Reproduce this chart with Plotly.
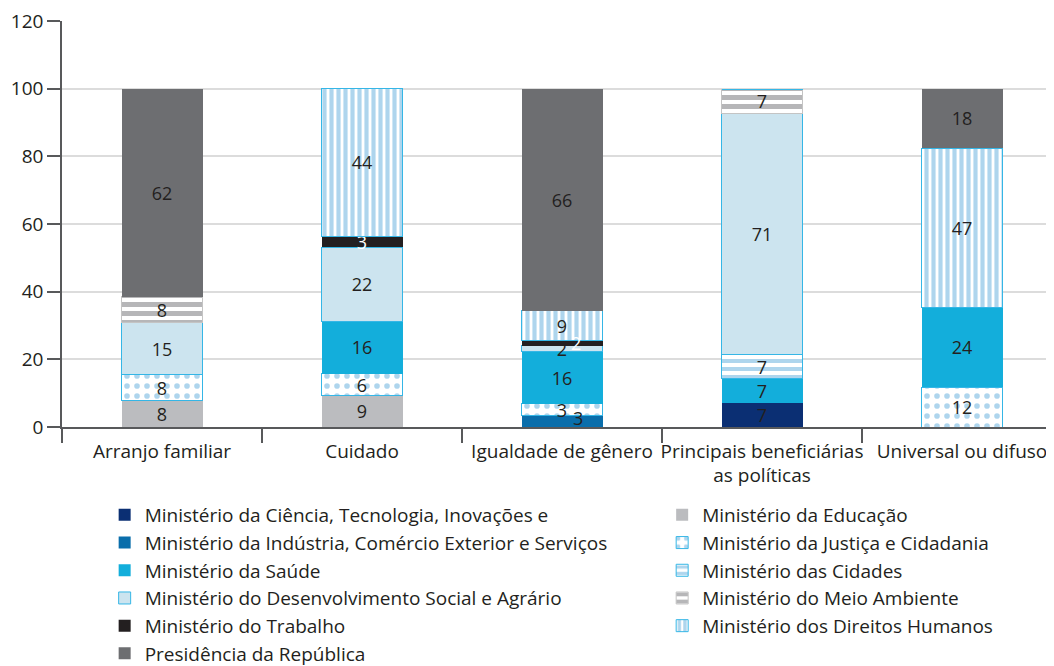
import plotly.graph_objects as go

categories = ["Arranjo familiar", "Cuidado", "Igualdade de gênero",
              "Principais beneficiárias<br>as políticas", "Universal ou difuso"]

# Shares (%) by ministry, stacked bottom to top
ciencia    = [0,    0,    0,    7.1,  0]
industria  = [0,    0,    3.4,  0,    0]
educacao   = [7.7,  9.4,  0,    0,    0]
justica    = [7.7,  6.3,  3.4,  0,    11.8]
saude      = [0,    15.6, 15.5, 7.1,  23.5]
cidades    = [0,    0,    0,    7.1,  0]
desenv     = [15.4, 21.9, 1.7,  71.4, 0]
trabalho   = [0,    3.1,  1.7,  0,    0]
meio       = [7.7,  0,    0,    7.1,  0]
direitos   = [0,    43.8, 8.6,  0,    47.1]
presid     = [61.5, 0,    65.5, 0,    17.6]

names = {
    "ciencia": "Ministério da Ciência, Tecnologia, Inovações e",
    "industria": "Ministério da Indústria, Comércio Exterior e Serviços",
    "educacao": "Ministério da Educação",
    "justica": "Ministério da Justiça e Cidadania",
    "saude": "Ministério da Saúde",
    "cidades": "Ministério das Cidades",
    "desenv": "Ministério do Desenvolvimento Social e Agrário",
    "trabalho": "Ministério do Trabalho",
    "meio": "Ministério do Meio Ambiente",
    "direitos": "Ministério dos Direitos Humanos",
    "presid": "Presidência da República",
}

FONT = "Open Sans"
DARK = "#231f20"
PATBLUE = "#5dacdb"
EDGE = "#35b6e6"

# labels of thin segments that the original nudges sideways: (series, category index) -> (xshift, yshift)
nudged = {("trabalho", 2): (14, 0), ("industria", 2): (16, 3)}

series = [
    ("ciencia", ciencia, dict(color="#0b2f73"), DARK, "legend"),
    ("industria", industria, dict(color="#0a6eab"), DARK, "legend"),
    ("educacao", educacao, dict(color="#bbbcbf"), DARK, "legend2"),
    ("justica", justica, dict(color=PATBLUE, line=dict(color=EDGE, width=1),
                              pattern=dict(shape=".", fgcolor=PATBLUE, bgcolor="white",
                                           size=10, solidity=0.25)), DARK, "legend2"),
    ("saude", saude, dict(color="#13aedb"), DARK, "legend"),
    ("cidades", cidades, dict(color=PATBLUE, line=dict(color=EDGE, width=1),
                              pattern=dict(shape="-", fgcolor=PATBLUE, bgcolor="white",
                                           size=8, solidity=0.5)), DARK, "legend2"),
    ("desenv", desenv, dict(color="#cce4ef", line=dict(color=EDGE, width=1)), DARK, "legend"),
    ("trabalho", trabalho, dict(color="#231f20"), "white", "legend"),
    ("meio", meio, dict(color="#6d6e71", line=dict(color="#c4c4c4", width=1),
                        pattern=dict(shape="-", fgcolor="#6d6e71", bgcolor="white",
                                     size=9, solidity=0.55)), DARK, "legend2"),
    ("direitos", direitos, dict(color=PATBLUE, line=dict(color=EDGE, width=1),
                                pattern=dict(shape="|", fgcolor=PATBLUE, bgcolor="white",
                                             size=7, solidity=0.6)), DARK, "legend2"),
    ("presid", presid, dict(color="#6d6e71"), DARK, "legend"),
]

fig = go.Figure()
base = [0.0] * len(categories)
for key, vals, marker, tcolor, leg in series:
    if "line" not in marker:
        marker["line"] = dict(width=0)
    texts = []
    for j, v in enumerate(vals):
        if not v:
            texts.append("")
        elif (key, j) in nudged:
            texts.append("")
            dx, dy = nudged[(key, j)]
            fig.add_annotation(x=categories[j], y=base[j] + v / 2, text=f"{v:.0f}",
                               showarrow=False, xshift=dx, yshift=dy,
                               font=dict(family=FONT, size=18, color=tcolor))
        else:
            texts.append(f"{v:.0f}")
    fig.add_trace(go.Bar(
        x=categories, y=vals, name=names[key], marker=marker,
        text=texts,
        textposition="inside", insidetextanchor="middle", textangle=0,
        textfont=dict(family=FONT, size=18, color=tcolor),
        legend=leg, legendgroup=key, hoverinfo="skip",
    ))
    base = [b + v for b, v in zip(base, vals)]

legend_common = dict(
    orientation="v", xanchor="left", yanchor="top", yref="paper",
    font=dict(family=FONT, size=19, color=DARK), traceorder="normal",
    tracegroupgap=0, bgcolor="rgba(0,0,0,0)", borderwidth=0,
)

# page body adds an 8px offset, so the figure is 8px smaller than the window
fig.update_layout(
    width=1046, height=658,
    margin=dict(l=54, r=0, t=13, b=239, autoexpand=False),
    paper_bgcolor="white", plot_bgcolor="white",
    barmode="stack", bargap=0.595,
    uniformtext=dict(minsize=18, mode="show"),
    font=dict(family=FONT, size=19, color=DARK),
    legend=dict(x=0.043, y=-0.170, **legend_common),
    legend2=dict(x=0.605, y=-0.170, **legend_common),
    showlegend=True,
    xaxis=dict(
        range=[-0.5, 4.46], showgrid=False, tickson="boundaries",
        ticks="outside", ticklen=14, tickcolor="#58595b", tickwidth=1.5,
        showline=True, linecolor="#58595b", linewidth=1.5,
        tickangle=0, ticklabeloverflow="allow", ticklabelstandoff=6,
        tickfont=dict(family=FONT, size=19, color=DARK),
    ),
    yaxis=dict(
        range=[0, 120], tickvals=[0, 20, 40, 60, 80, 100, 120],
        showgrid=True, gridcolor="#dcdcdc", gridwidth=1.5,
        ticks="outside", ticklen=13, tickcolor="#58595b", tickwidth=1.5,
        showline=True, linecolor="#58595b", linewidth=1.5,
        zeroline=False, ticklabeloverflow="allow",
        tickfont=dict(family=FONT, size=19, color=DARK),
    ),
)

fig.write_html("out.html")
